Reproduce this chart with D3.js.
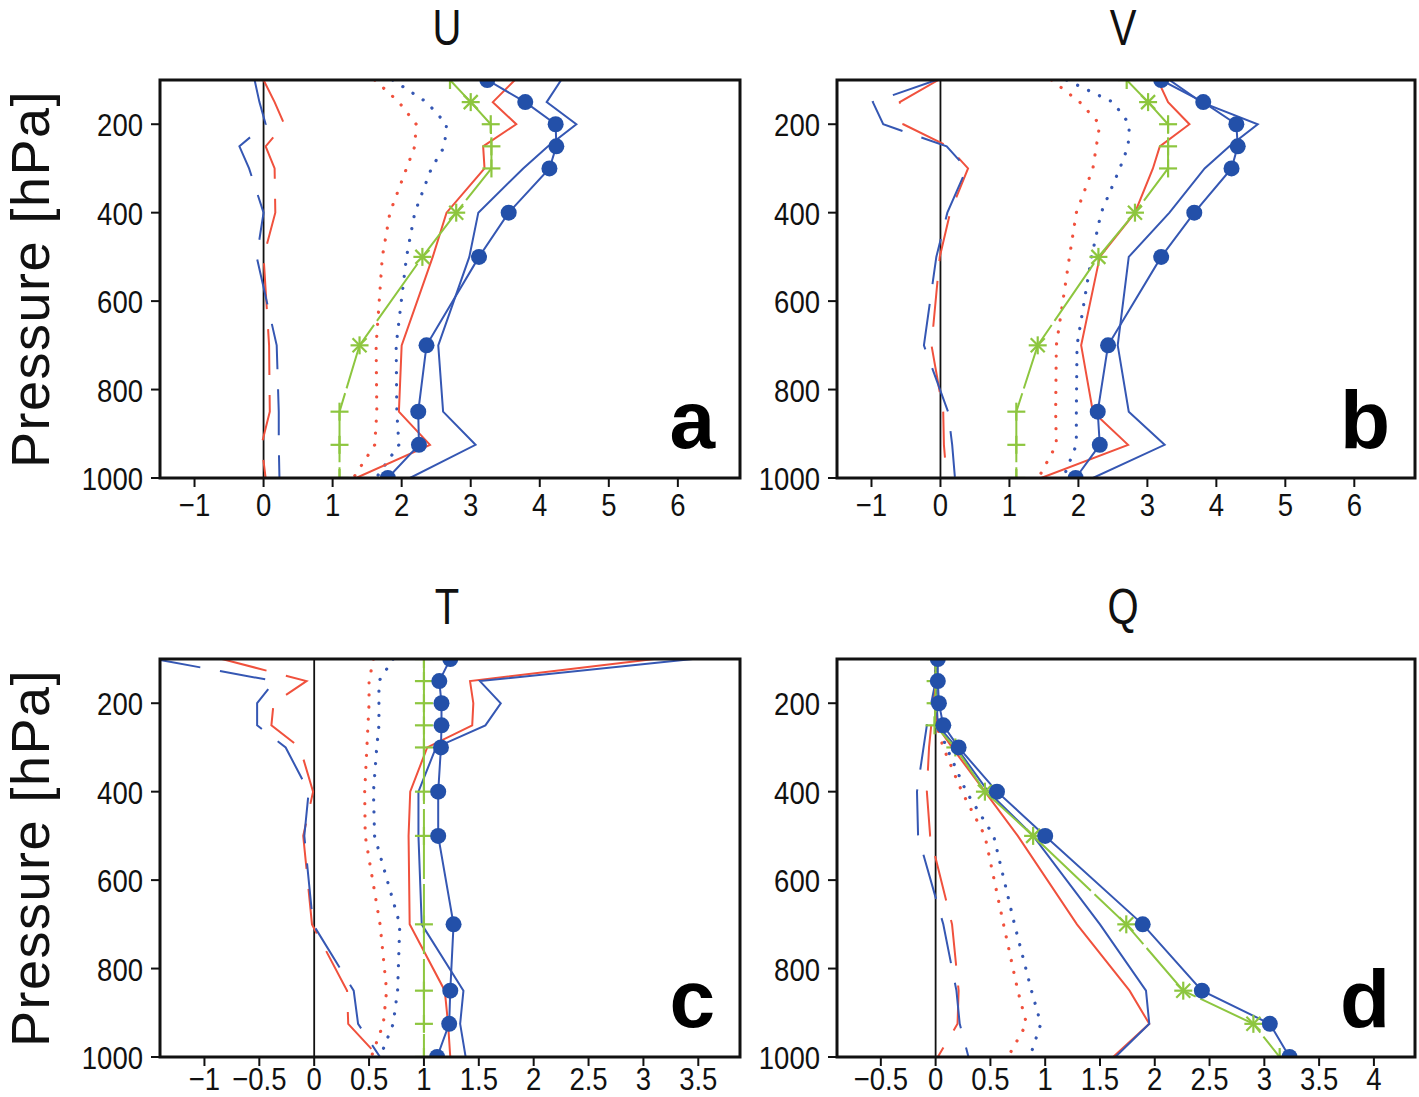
<!DOCTYPE html>
<html>
<head>
<meta charset="utf-8">
<script src="https://cdn.jsdelivr.net/npm/d3@7.9.0/dist/d3.min.js"></script>
<style>
  body { margin: 0; background: #fff; }
  svg { display: block; }
  .tick-label { font-family: "Liberation Sans", Arial, sans-serif; font-size: 32px; fill: #111; }
  .title { font-family: "Liberation Sans", Arial, sans-serif; font-size: 50px; fill: #111; }
  .ylab { font-family: "Liberation Sans", Arial, sans-serif; font-size: 54px; fill: #111; letter-spacing: 1.5px; }
  .letter { font-family: "Liberation Sans", Arial, sans-serif; font-size: 82px; font-weight: bold; fill: #000; }
</style>
</head>
<body>
<svg id="chart" width="1419" height="1097"></svg>
<script>
// pressure levels (hPa)
const levels = [100, 150, 200, 250, 300, 400, 500, 700, 850, 925, 1000];

// U
const uRedDash    = [0.0, 0.16, 0.30, 0.03, 0.16, 0.17, 0.0, 0.08, 0.09, -0.03, 0.03];
const uBlueDash   = [-0.13, -0.06, 0.03, -0.35, -0.21, 0.0, -0.10, 0.19, 0.22, 0.22, 0.23];
const uRedDot     = [1.61, 1.96, 2.21, 2.19, 2.07, 1.83, 1.72, 1.63, 1.64, 1.61, 1.30];
const uBlueDot    = [1.87, 2.36, 2.65, 2.62, 2.43, 2.19, 2.07, 1.92, 1.93, 1.96, 1.63];
const uRedSolid   = [3.64, 3.32, 3.66, 3.18, 3.20, 2.65, 2.45, 2.00, 1.96, 2.41, 1.34];
const uBlueSolid  = [4.31, 4.10, 4.53, 4.12, 3.76, 3.11, 2.98, 2.53, 2.60, 3.07, 2.12];
const uBlueCircle = [3.24, 3.79, 4.23, 4.24, 4.14, 3.55, 3.12, 2.36, 2.24, 2.25, 1.80];
const uGreen      = [2.70, 3.00, 3.29, 3.30, 3.30, 2.79, 2.30, 1.39, 1.10, 1.10, 1.10];

// V
const vRedDash    = [-0.03, -0.59, -0.54, 0.11, 0.40, 0.14, -0.01, -0.13, 0.04, 0.05, 0.09];
const vBlueDash   = [-0.06, -0.98, -0.83, 0.09, 0.38, 0.10, -0.06, -0.24, 0.11, 0.17, 0.21];
const vRedDot     = [1.61, 2.02, 2.31, 2.26, 2.21, 1.97, 1.87, 1.68, 1.67, 1.68, 1.42];
const vBlueDot    = [1.83, 2.50, 2.74, 2.72, 2.60, 2.33, 2.19, 1.98, 1.97, 1.97, 1.78];
const vRedSolid   = [3.15, 3.30, 3.61, 3.18, 3.08, 2.82, 2.31, 2.04, 2.21, 2.72, 1.46];
const vBlueSolid  = [3.32, 3.78, 4.60, 4.19, 3.83, 3.32, 2.73, 2.57, 2.73, 3.25, 2.21];
const vBlueCircle = [3.20, 3.81, 4.29, 4.31, 4.22, 3.68, 3.20, 2.43, 2.28, 2.31, 1.96];
const vGreen      = [2.70, 3.01, 3.30, 3.30, 3.30, 2.82, 2.29, 1.41, 1.10, 1.10, 1.10];

// T
const tRedDash    = [-0.84, -0.07, -0.37, -0.39, -0.13, -0.01, -0.10, -0.02, 0.30, 0.31, 0.59];
const tBlueDash   = [-1.45, -0.36, -0.52, -0.52, -0.26, -0.05, -0.09, -0.01, 0.36, 0.40, 0.60];
const tRedDot     = [0.54, 0.50, 0.50, 0.49, 0.48, 0.46, 0.465, 0.60, 0.66, 0.63, 0.52];
const tBlueDot    = [0.72, 0.59, 0.59, 0.59, 0.57, 0.54, 0.55, 0.78, 0.76, 0.72, 0.60];
const tRedSolid   = [3.10, 1.42, 1.45, 1.44, 1.03, 0.875, 0.86, 0.87, 1.19, 1.22, 1.24];
const tBlueSolid  = [3.45, 1.51, 1.70, 1.56, 1.11, 0.95, 0.95, 0.98, 1.36, 1.33, 1.38];
const tBlueCircle = [1.24, 1.14, 1.16, 1.16, 1.155, 1.13, 1.13, 1.27, 1.24, 1.23, 1.12];
const tGreen      = [1, 1, 1, 1, 1, 1, 1, 1, 1, 1, 1];

// Q
const qRedDash    = [0.0, 0.0, -0.02, -0.04, -0.06, -0.08, -0.05, 0.15, 0.21, 0.20, 0.02];
const qBlueDash   = [0.0, 0.0, -0.04, -0.08, -0.11, -0.17, -0.16, 0.07, 0.19, 0.22, 0.30];
const qRedDot     = [0.0, 0.0, 0.0, 0.01, 0.07, 0.24, 0.45, 0.62, 0.75, 0.83, 0.66];
const qBlueDot    = [0.0, 0.0, 0.0, 0.02, 0.10, 0.28, 0.53, 0.72, 0.875, 0.96, 0.86];
const qRedSolid   = [0.01, 0.0, -0.01, 0.01, 0.15, 0.45, 0.75, 1.29, 1.77, 1.95, 1.62];
const qBlueSolid  = [0.01, 0.01, 0.01, 0.02, 0.19, 0.48, 0.89, 1.50, 1.92, 1.95, 1.64];
const qBlueCircle = [0.02, 0.02, 0.03, 0.07, 0.21, 0.56, 1.00, 1.89, 2.43, 3.05, 3.23];
const qGreen      = [0.0, 0.0, 0.0, -0.01, 0.18, 0.45, 0.89, 1.74, 2.26, 2.90, 3.14];

// tick labels
const uvTicks = [-1, 0, 1, 2, 3, 4, 5, 6];
const tTicks = [-1, -0.5, 0, 0.5, 1, 1.5, 2, 2.5, 3, 3.5];
const qTicks = [-0.5, 0, 0.5, 1, 1.5, 2, 2.5, 3, 3.5, 4];
const pTicks = [200, 400, 600, 800, 1000];

const RED = '#f0513d', BLUE = '#3557b3', DOT_BLUE = '#2350a9', GREEN = '#8dc63f';

const panels = [
  { id: 'a', title: 'U', x0: 160, x1: 740, y0: 80, y1: 478, dom: [-1.5, 6.9], ticks: uvTicks,
    s: [uRedDash, uBlueDash, uRedDot, uBlueDot, uRedSolid, uBlueSolid, uBlueCircle, uGreen],
    stars: [150, 400, 500, 700], labOff: 38 },
  { id: 'b', title: 'V', x0: 837, x1: 1415, y0: 80, y1: 478, dom: [-1.5, 6.88], ticks: uvTicks,
    s: [vRedDash, vBlueDash, vRedDot, vBlueDot, vRedSolid, vBlueSolid, vBlueCircle, vGreen],
    stars: [150, 400, 500, 700], labOff: 38 },
  { id: 'c', title: 'T', x0: 160, x1: 740, y0: 659, y1: 1057, dom: [-1.405, 3.88], ticks: tTicks,
    s: [tRedDash, tBlueDash, tRedDot, tBlueDot, tRedSolid, tBlueSolid, tBlueCircle, tGreen],
    stars: [], labOff: 33 },
  { id: 'd', title: 'Q', x0: 837, x1: 1415, y0: 659, y1: 1057, dom: [-0.9, 4.375], ticks: qTicks,
    s: [qRedDash, qBlueDash, qRedDot, qBlueDot, qRedSolid, qBlueSolid, qBlueCircle, qGreen],
    stars: [400, 500, 700, 850, 925], labOff: 33 }
];

const styles = [
  { color: RED,  dash: '46,20', w: 2 },
  { color: BLUE, dash: '46,20', w: 2 },
  { color: RED,  dash: '0.1,12', w: 3.2, cap: 'round' },
  { color: BLUE, dash: '0.1,12', w: 3.2, cap: 'round' },
  { color: RED,  dash: null, w: 2 },
  { color: BLUE, dash: null, w: 2 },
  { color: BLUE, dash: null, w: 2 },
  { color: GREEN, dash: '70,5', w: 2 }
];

const svg = d3.select('#chart');
svg.append('rect').attr('width', 1419).attr('height', 1097).attr('fill', '#fff');

const fmt = v => (v < 0 ? '\u2212' : '') + Math.abs(v);

// narrow text: squeeze horizontally like the plotting font
function label(g, x, y, txt, cls, anchor, sx) {
  return g.append('text').attr('class', cls)
    .attr('transform', `translate(${x},${y}) scale(${sx},1)`)
    .attr('text-anchor', anchor).text(txt);
}

panels.forEach((p) => {
  const x = d3.scaleLinear().domain(p.dom).range([p.x0, p.x1]);
  const y = d3.scaleLinear().domain([100, 1000]).range([p.y0, p.y1]);
  const g = svg.append('g');

  svg.append('clipPath').attr('id', 'clip-' + p.id)
    .append('rect').attr('x', p.x0).attr('y', p.y0)
    .attr('width', p.x1 - p.x0).attr('height', p.y1 - p.y0);
  const plot = g.append('g').attr('clip-path', `url(#clip-${p.id})`);

  // zero line
  plot.append('line')
    .attr('x1', x(0)).attr('x2', x(0)).attr('y1', p.y0).attr('y2', p.y1)
    .attr('stroke', '#111').attr('stroke-width', 1.8);

  const line = d3.line().x(d => x(d[0])).y(d => y(d[1]));

  p.s.forEach((vals, i) => {
    const st = styles[i];
    plot.append('path')
      .attr('d', line(vals.map((v, k) => [v, levels[k]])))
      .attr('fill', 'none')
      .attr('stroke', st.color)
      .attr('stroke-width', st.w)
      .attr('stroke-linecap', st.cap || 'butt')
      .attr('stroke-dasharray', st.dash);
  });

  // green markers
  p.s[7].forEach((v, k) => {
    const cx = x(v), cy = y(levels[k]);
    const h = 9;
    const m = plot.append('g').attr('stroke', GREEN).attr('stroke-width', 2.2);
    m.append('line').attr('x1', cx - h).attr('x2', cx + h).attr('y1', cy).attr('y2', cy);
    m.append('line').attr('x1', cx).attr('x2', cx).attr('y1', cy - h).attr('y2', cy + h);
    if (p.stars.includes(levels[k])) {
      const d = 7;
      m.append('line').attr('x1', cx - d).attr('x2', cx + d).attr('y1', cy - d).attr('y2', cy + d);
      m.append('line').attr('x1', cx - d).attr('x2', cx + d).attr('y1', cy + d).attr('y2', cy - d);
    }
  });

  // blue circles
  plot.selectAll('circle.dot')
    .data(p.s[6].map((v, k) => [v, levels[k]]))
    .join('circle')
    .attr('class', 'dot')
    .attr('cx', d => x(d[0])).attr('cy', d => y(d[1]))
    .attr('r', 8).attr('fill', DOT_BLUE);

  // frame
  g.append('rect')
    .attr('x', p.x0).attr('y', p.y0)
    .attr('width', p.x1 - p.x0).attr('height', p.y1 - p.y0)
    .attr('fill', 'none').attr('stroke', '#111').attr('stroke-width', 3);

  // x axis
  p.ticks.forEach(t => {
    g.append('line').attr('x1', x(t)).attr('x2', x(t))
      .attr('y1', p.y1).attr('y2', p.y1 + 9)
      .attr('stroke', '#111').attr('stroke-width', 2);
    label(g, x(t), p.y1 + p.labOff, fmt(t), 'tick-label', 'middle', 0.86);
  });

  // y axis
  pTicks.forEach(t => {
    g.append('line').attr('x1', p.x0 - 9).attr('x2', p.x0)
      .attr('y1', y(t)).attr('y2', y(t))
      .attr('stroke', '#111').attr('stroke-width', 2);
    label(g, p.x0 - 17, y(t) + 12, t, 'tick-label', 'end', 0.86);
  });

  // title
  label(g, (p.x0 + p.x1) / 2 - 3, p.y0 - 35, p.title, 'title', 'middle', 0.8);

  // panel letter
  g.append('text').attr('class', 'letter')
    .attr('x', p.x1 - 25).attr('y', p.y1 - 30)
    .attr('text-anchor', 'end').text(p.id);

  // y label, left column only
  if (p.x0 < 400) {
    g.append('text').attr('class', 'ylab')
      .attr('transform', `translate(49,${(p.y0 + p.y1) / 2}) rotate(-90)`)
      .attr('text-anchor', 'middle').text('Pressure [hPa]');
  }
});
</script>
</body>
</html>
